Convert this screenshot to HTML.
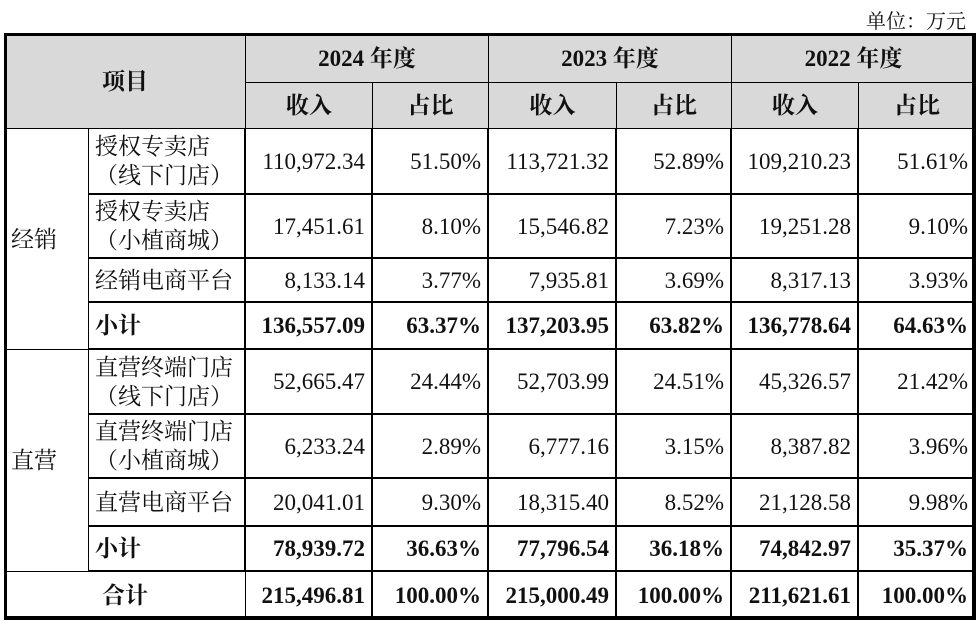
<!DOCTYPE html>
<html><head><meta charset="utf-8"><style>
body{margin:0;width:980px;height:626px;background:#fff;position:relative;overflow:hidden;font-family:"Liberation Serif","Noto Serif CJK SC",serif;color:#111}
.c{position:absolute;box-sizing:border-box;border:1px solid #000;display:flex;align-items:center;font-size:23px;line-height:29px;padding:0 6px}
.h{background:#d9d9d9;font-weight:bold;justify-content:center;font-family:"Liberation Serif","Noto Serif CJK SC",serif}
.r{justify-content:flex-end}.l{justify-content:flex-start}.m{justify-content:center}.b{font-weight:bold}
#unit{position:absolute;right:14px;top:5px;font-size:20px;font-family:"Liberation Serif","Noto Serif CJK SC",serif}
#frame{position:absolute;left:4px;top:33px;width:971px;height:586px;box-sizing:border-box;border:3px solid #000;pointer-events:none}
</style></head><body>
<div id="unit">单位：万元</div>
<div id="tbl"></div>
<div id="frame"></div>
<script>
const years=["2024 年度","2023 年度","2022 年度"];
const groups=["经销","直营"];
const items=["授权专卖店<br>（线下门店）","授权专卖店<br>（小植商城）","经销电商平台","小计","直营终端门店<br>（线下门店）","直营终端门店<br>（小植商城）","直营电商平台","小计"];
const rev2024=["110,972.34","17,451.61","8,133.14","136,557.09","52,665.47","6,233.24","20,041.01","78,939.72","215,496.81"];
const pct2024=["51.50%","8.10%","3.77%","63.37%","24.44%","2.89%","9.30%","36.63%","100.00%"];
const rev2023=["113,721.32","15,546.82","7,935.81","137,203.95","52,703.99","6,777.16","18,315.40","77,796.54","215,000.49"];
const pct2023=["52.89%","7.23%","3.69%","63.82%","24.51%","3.15%","8.52%","36.18%","100.00%"];
const rev2022=["109,210.23","19,251.28","8,317.13","136,778.64","45,326.57","8,387.82","21,128.58","74,842.97","211,621.61"];
const pct2022=["51.61%","9.10%","3.93%","64.63%","21.42%","3.96%","9.98%","35.37%","100.00%"];
const X=[4,88,245,372,488,616,731,858,975];
const Y=[33,82,128,194,258,302,349,414,478,526,571,619];
const T=document.getElementById('tbl');
function cell(x0,x1,y0,y1,html,cls,name){const d=document.createElement('div');d.className='c '+cls;
d.style.left=X[x0]+'px';d.style.top=Y[y0]+'px';d.style.width=(X[x1]-X[x0]+1)+'px';d.style.height=(Y[y1]-Y[y0]+1)+'px';
if(cls.indexOf('h')<0&&x0>=1)d.style.borderWidth='1px 2px 2px 1px';
d.innerHTML=html;


T.appendChild(d);}
cell(0,2,0,2,'项目','h','header-item');
years.forEach((y,i)=>{cell(2+2*i,4+2*i,0,1,y,'h','header-year-'+i);cell(2+2*i,3+2*i,1,2,'收入','h','header-revenue-'+i);cell(3+2*i,4+2*i,1,2,'占比','h','header-share-'+i);});
cell(0,1,2,6,groups[0],'l','group-distribution');
cell(0,1,6,10,groups[1],'l','group-direct');
const revs=[rev2024,rev2023,rev2022],pcts=[pct2024,pct2023,pct2022];
for(let r=0;r<9;r++){
 const bold=(r==3||r==7||r==8)?' b':'';
 if(r<8)cell(1,2,2+r,3+r,items[r],'l'+bold,'row-label-'+r);
 else cell(0,2,10,11,'合计','m b','row-label-total');
 for(let i=0;i<3;i++){cell(2+2*i,3+2*i,2+r,3+r,revs[i][r],'r'+bold,'revenue-cell');cell(3+2*i,4+2*i,2+r,3+r,pcts[i][r],'r'+bold,'share-cell');}
}
</script>
</body></html>
